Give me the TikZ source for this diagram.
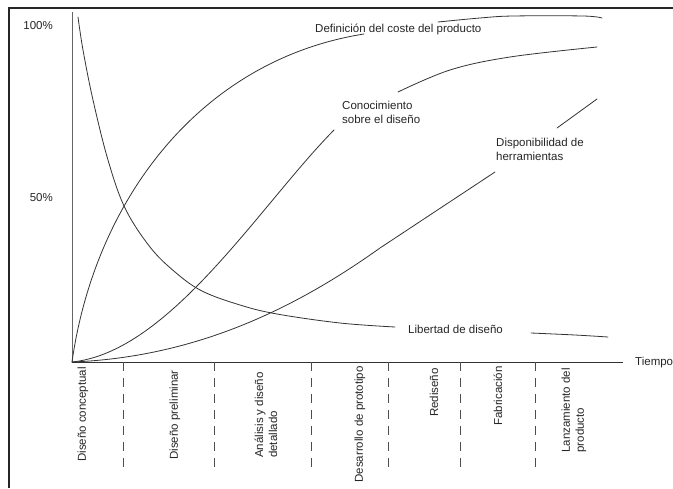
\documentclass[tikz,border=0pt]{standalone}
\usepackage{fontspec}
\setmainfont{Liberation Sans}
\begin{document}
\begin{tikzpicture}[x=1pt,y=-1pt,
  lbl/.style={font=\fontsize{11.5}{14}\selectfont, inner sep=0pt, text=black!85},
  curve/.style={draw=black!80, line width=0.8pt, line join=round, line cap=round},
  phase/.style={draw=black!70, line width=0.9pt, dash pattern=on 9pt off 7pt},
  vlbl/.style={lbl, rotate=90, anchor=east, align=left}]
\useasboundingbox (0,0) rectangle (673,488);
\fill[white] (0,0) rectangle (673,488);

% outer frame
\draw[line width=1.8pt, black!85] (9,488) -- (9,8) -- (673,8);

% axes
\coordinate (O) at (72,362);
\coordinate (ytop) at (72,12);
\coordinate (xend) at (623,362);
\draw[black!60, line width=0.9pt] (O) -- (ytop);
\draw[black!80, line width=0.9pt] (O) -- (xend);
\node[lbl, anchor=west] (tiempo) at (635,363) {Tiempo};
\node[lbl, anchor=east] (p100) at (53,26) {100\%};
\node[lbl, anchor=east] (p50) at (53,198) {50\%};

% phase separators
\foreach \x [count=\i] in {123,214,311,388,460,535}
  \draw[phase] (\x,362) coordinate (s\i) -- (\x,472) coordinate (e\i);

% phase labels
\node[vlbl] (f1) at (83,367) {Diseño conceptual};
\node[vlbl] (f2) at (175,370) {Diseño preliminar};
\node[vlbl] (f3) at (266,372) {Análisis y diseño\\detallado};
\node[vlbl] (f4) at (360,366) {Desarrollo de prototipo};
\node[vlbl] (f5) at (434,368) {Rediseño};
\node[vlbl] (f6) at (498,366) {Fabricación};
\node[vlbl] (f7) at (574,368) {Lanzamiento del\\producto};

% curve labels
\node[lbl, anchor=base west] (def) at (315,32) {Definición del coste del producto};
\node[lbl, anchor=west, align=left] (con) at (342,112) {Conocimiento\\sobre el diseño};
\node[lbl, anchor=west, align=left] (dis) at (496,149) {Disponibilidad de\\herramientas};
\node[lbl, anchor=west] (lib) at (408,329) {Libertad de diseño};

% Libertad de diseño
\draw[curve] plot[smooth, tension=0.6] coordinates {(78,17) (83,50) (93,100) (108,160) (125,208) (150,247) (175,272) (202,291) (240,305) (277,314) (340,323) (395,327)};
\draw[curve] plot[smooth, tension=0.6] coordinates {(531,333) (575,335) (608,337)};

% Definicion del coste del producto
\draw[curve] (O) .. controls (95,200) and (200,60) .. (364,34);
\draw[curve] plot[smooth, tension=0.6] coordinates {(438,22) (480,18) (513,16) (583,16) (602,18)};

% Conocimiento sobre el diseño
\draw[curve] (O) .. controls (170,352) and (260,205) .. (334,130);
\draw[curve] plot[smooth, tension=0.6] coordinates {(398,92) (450,70) (510,57) (597,47)};

% Disponibilidad de herramientas
\draw[curve] (O) .. controls (200,357) and (300,305) .. (380,248) -- (495,172);
\draw[curve] (557,128) -- (597,99);
\end{tikzpicture}
\end{document}
